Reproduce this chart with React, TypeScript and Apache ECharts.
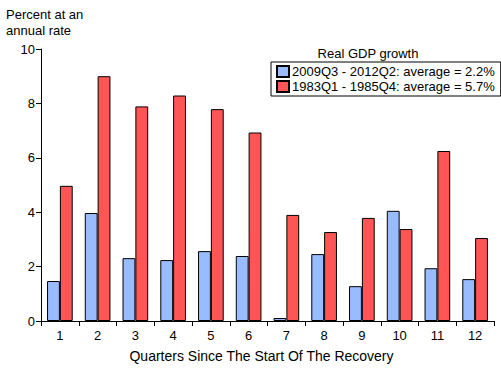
import React, { useEffect, useRef } from "react";
import * as echarts from "echarts";

const categories = ["1", "2", "3", "4", "5", "6", "7", "8", "9", "10", "11", "12"];
const recent = [1.47, 3.97, 2.31, 2.24, 2.57, 2.39, 0.11, 2.46, 1.28, 4.05, 1.94, 1.54];
const earlier = [4.97, 9.0, 7.89, 8.29, 7.79, 6.93, 3.9, 3.27, 3.79, 3.38, 6.25, 3.05];
const seriesNames = ["2009Q3 - 2012Q2: average = 2.2%", "1983Q1 - 1985Q4: average = 5.7%"];

const FONT = "Liberation Sans, Arial, sans-serif";

export default function App() {
  const ref = useRef<HTMLDivElement>(null);
  useEffect(() => {
    const chart = echarts.init(ref.current!, null, { renderer: "svg" });
    chart.setOption({
      animation: false,
      backgroundColor: "#ffffff",
      textStyle: { fontFamily: FONT },
      grid: { left: 41, right: 7, top: 49, bottom: 50 },
      graphic: [
        {
          type: "text",
          left: 6,
          top: 6,
          style: {
            text: "Percent at an\nannual rate",
            font: `13px ${FONT}`,
            fill: "#000",
            lineHeight: 16,
          },
        },
        {
          type: "text",
          x: 368,
          y: 53,
          style: {
            text: "Real GDP growth",
            font: `13px ${FONT}`,
            fill: "#000",
            align: "center",
            verticalAlign: "middle",
          },
        },
      ],
      legend: {
        orient: "vertical",
        left: 271,
        top: 62,
        padding: [3, 6, 3, 5],
        itemGap: 2,
        itemWidth: 12,
        itemHeight: 11,
        icon: "rect",
        borderColor: "#000",
        borderWidth: 1,
        textStyle: { fontFamily: FONT, fontSize: 13, color: "#000", padding: [0, 0, 0, -2] },
        data: seriesNames,
      },
      xAxis: {
        type: "category",
        data: categories,
        name: "Quarters Since The Start Of The Recovery",
        nameLocation: "middle",
        nameGap: 28,
        nameTextStyle: { fontFamily: FONT, fontSize: 14, color: "#000", padding: [0, 12, 0, 0] },
        axisLine: { lineStyle: { color: "#000", width: 1 } },
        axisTick: { show: true, length: 5, lineStyle: { color: "#000" } },
        axisLabel: { fontFamily: FONT, fontSize: 13, color: "#000", margin: 8 },
      },
      yAxis: {
        type: "value",
        min: 0,
        max: 10,
        interval: 2,
        splitLine: { show: false },
        axisLine: { show: true, lineStyle: { color: "#000", width: 1 } },
        axisTick: { show: true, length: 5, lineStyle: { color: "#000" } },
        axisLabel: { fontFamily: FONT, fontSize: 13, color: "#000", margin: 6 },
      },
      series: [
        {
          name: seriesNames[0],
          type: "bar",
          data: recent,
          barGap: "0%",
          barCategoryGap: "32%",
          itemStyle: { color: "#99bbff", borderColor: "#000", borderWidth: 1 },
        },
        {
          name: seriesNames[1],
          type: "bar",
          data: earlier,
          barGap: "0%",
          barCategoryGap: "32%",
          itemStyle: { color: "#ff5555", borderColor: "#000", borderWidth: 1 },
        },
      ],
    });
    return () => chart.dispose();
  }, []);
  return <div ref={ref} style={{ width: 501, height: 371, position: "absolute", left: 0, top: 0 }} />;
}
